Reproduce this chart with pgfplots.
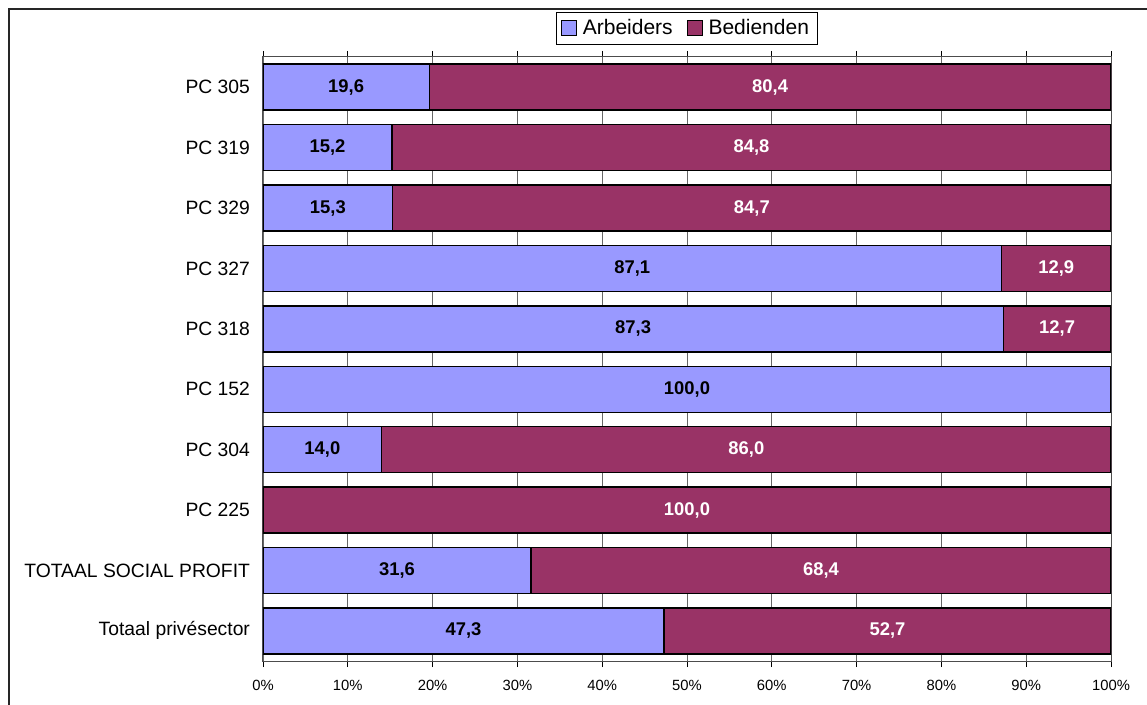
\documentclass[border=0pt]{standalone}
\usepackage{fontspec}
\setmainfont{Liberation Sans}
\usepackage{pgfplots}
\pgfplotsset{compat=1.18}
\usepackage{pgfplotstable}

\definecolor{arb}{HTML}{9999FF}
\definecolor{bed}{HTML}{993366}

\pgfplotsset{sqleg/.style={legend image code/.code={\draw[##1, line width=0.5pt] (0pt,-3.7pt) rectangle (7.4pt,3.7pt);}}}

% y: 0 = top category (y dir=reverse)
\pgfplotstableread{
y a b
0 19.6 80.4
1 15.2 84.8
2 15.3 84.7
3 87.1 12.9
4 87.3 12.7
5 100.0 0.0
6 14.0 86.0
7 0.0 100.0
8 31.6 68.4
9 47.3 52.7
}\datatable

\begin{document}
\begin{tikzpicture}
\useasboundingbox (0,0) rectangle (573.5pt,-352.5pt);
\draw[line width=0.8pt, black!85] (4.5pt,-352.5pt) -- (4.5pt,-4.5pt) -- (573.5pt,-4.5pt);
\begin{axis}[
    at={(131.5pt,-330.5pt)}, anchor=south west,
    scale only axis,
    width=424pt, height=302pt,
    xbar stacked,
    bar width=23pt,
    xmin=0, xmax=100,
    ymin=-0.5, ymax=9.5,
    y dir=reverse,
    xtick={0,10,...,100},
    xticklabel={\pgfmathprintnumber{\tick}\%},
    ytick={0,...,9},
    yticklabels={PC 305, PC 319, PC 329, PC 327, PC 318, PC 152, PC 304, PC 225, TOTAAL SOCIAL PROFIT, Totaal privésector},
    minor ytick={-0.5,0.5,...,9.5},
    ytick style={draw=none},
    minor tick length=2.5pt,
    every minor tick/.style={draw=black, thin},
    tick align=outside,
    xtick style={black, thin},
    major tick length=3pt,
    xmajorgrids=true,
    major grid style={black!60, line width=0.4pt},
    axis line style={black!70, line width=0.5pt},
    /pgf/number format/assume math mode=true,
    xticklabel style={font=\fontsize{7.4}{9}\selectfont, yshift=-3pt},
    yticklabel style={font=\fontsize{9.65}{11}\selectfont, xshift=0pt},
    legend style={at={(0.5,1)}, anchor=south, yshift=6pt,
        draw=black, line width=0.5pt, inner xsep=2.5pt, inner ysep=1.5pt,
        legend columns=2,
        /tikz/every odd column/.append style={column sep=1pt},
        /tikz/every even column/.append style={column sep=5pt},
        font=\fontsize{10.5}{12}\selectfont, legend cell align=left},
    nodes near coords={\pgfmathfloatifflags{\pgfplotspointmeta}{0}{}{\pgfmathprintnumber[fixed, fixed zerofill, precision=1, use comma]{\pgfplotspointmeta}}},
    every node near coord/.append style={anchor=center, font=\fontsize{9.2}{11}\selectfont\bfseries},
]
\addplot+[fill=arb, draw=black, line width=0.7pt, sqleg,
    point meta=\thisrow{a},
    every node near coord/.append style={text=black}]
    table[x=a, y=y] {\datatable};
\addlegendentry{Arbeiders}
\addplot+[fill=bed, draw=black, line width=0.7pt, sqleg,
    point meta=\thisrow{b},
    every node near coord/.append style={text=white}]
    table[x=b, y=y] {\datatable};
\addlegendentry{Bedienden}
\end{axis}
\end{tikzpicture}
\end{document}
